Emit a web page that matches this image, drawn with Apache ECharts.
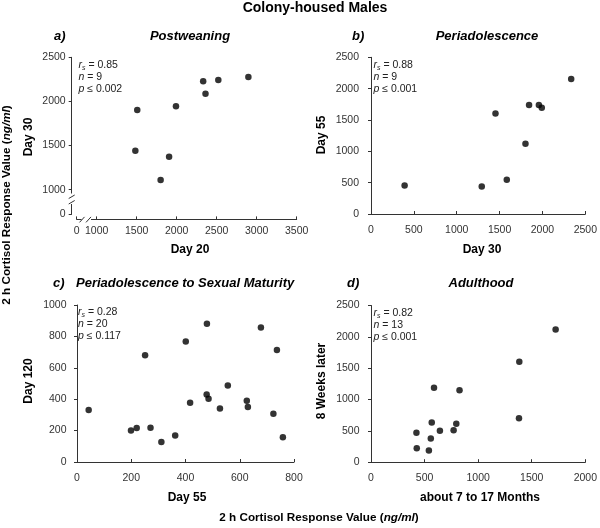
<!DOCTYPE html>
<html>
<head>
<meta charset="utf-8">
<script src="https://cdn.jsdelivr.net/npm/echarts@6/dist/echarts.min.js"></script>
<style>
html,body{margin:0;padding:0;background:#fff;}
#main{width:600px;height:528px;}
</style>
</head>
<body>
<div id="main"></div>
<script>
// ---- Data ----
var aX = [1507, 1483, 1799, 1905, 1991, 2331, 2360, 2520, 2896];
var aY = [1903, 1441, 1109, 1373, 1944, 2228, 2088, 2243, 2277];

var bX = [392, 1292, 1452, 1584, 1802, 1844, 1958, 1992, 2335];
var bY = [456, 440, 1605, 547, 1119, 1739, 1739, 1696, 2152];

var cX = [43, 199, 220, 251, 271, 311, 362, 401, 417, 479, 478, 485, 527, 556, 626, 630, 678, 724, 737, 759];
var cY = [331, 201, 216, 680, 218, 127, 169, 767, 377, 881, 430, 403, 341, 487, 390, 350, 856, 307, 714, 157];

var dX = [424, 427, 540, 558, 567, 588, 643, 771, 796, 826, 1381, 1384, 1723];
var dY = [468, 223, 186, 378, 633, 1186, 500, 511, 612, 1149, 702, 1601, 2117];

// Panel a has broken axes: the lowest tick stands for 0
var aXBreakBase = 750;
var aYBreakBase = 720;
var aXTicks = [750, 1000, 1500, 2000, 2500, 3000, 3500];
var aYTicks = [720, 1000, 1500, 2000, 2500];

var panelTitles = ['Postweaning', 'Periadolescence', 'Periadolescence to Sexual Maturity', 'Adulthood'];
var panelLetters = ['a)', 'b)', 'c)', 'd)'];
var xNames = ['Day 20', 'Day 30', 'Day 55', 'about 7 to 17 Months'];
var yNames = ['Day 30', 'Day 55', 'Day 120', '8 Weeks later'];
var statsR = ['0.85', '0.88', '0.28', '0.82'];
var statsN = ['9', '9', '20', '13'];
var statsP = ['0.002', '0.001', '0.117', '0.001'];

function pairs(xs, ys) { return xs.map(function (v, i) { return [v, ys[i]]; }); }

var FONT = '"Liberation Sans", Arial, Helvetica, sans-serif';
var AX = '#333';

var grids = [
  { left: 76.7, top: 57.3, width: 220, height: 157.1 },
  { left: 371, top: 57.3, width: 217.5, height: 156.7 },
  { left: 77, top: 305, width: 217, height: 157 },
  { left: 371, top: 305.5, width: 218.5, height: 156.7 }
];
var yOff = [5, 6, 4.5, 5.5];
var xOff = [5, 5, 4.5, 4.5];

function plain(v) { return String(v); }

function xAxisBase(i) {
  return {
    type: 'value', gridIndex: i, offset: xOff[i],
    splitLine: { show: false },
    axisLine: { show: true, lineStyle: { color: AX, width: 1 } },
    axisTick: { show: true, inside: true, length: 3, lineStyle: { color: AX } },
    axisLabel: { color: '#333', fontSize: 10.5, fontFamily: FONT, margin: 6, formatter: plain }
  };
}
function yAxisBase(i) {
  return {
    type: 'value', gridIndex: i, offset: yOff[i],
    splitLine: { show: false },
    axisLine: { show: true, lineStyle: { color: AX, width: 1 } },
    axisTick: { show: true, inside: false, length: 3, lineStyle: { color: AX } },
    axisLabel: { color: '#333', fontSize: 10.5, fontFamily: FONT, margin: 6, formatter: plain }
  };
}

var xAxes = [0, 1, 2, 3].map(xAxisBase);
var yAxes = [0, 1, 2, 3].map(yAxisBase);

// panel a
Object.assign(xAxes[0], { min: aXBreakBase, max: 3500 });
xAxes[0].axisTick.customValues = aXTicks;
xAxes[0].axisLabel.customValues = aXTicks;
xAxes[0].axisLabel.formatter = function (v) { return v === aXBreakBase ? '0' : String(v); };
Object.assign(yAxes[0], { min: aYBreakBase, max: 2500 });
yAxes[0].axisTick.customValues = aYTicks;
yAxes[0].axisLabel.customValues = aYTicks;
yAxes[0].axisLabel.formatter = function (v) { return v === aYBreakBase ? '0' : String(v); };
// panel b
Object.assign(xAxes[1], { min: 0, max: 2500, interval: 500 });
Object.assign(yAxes[1], { min: 0, max: 2500, interval: 500 });
// panel c
Object.assign(xAxes[2], { min: 0, max: 800, interval: 200 });
Object.assign(yAxes[2], { min: 0, max: 1000, interval: 200 });
// panel d
Object.assign(xAxes[3], { min: 0, max: 2000, interval: 500 });
Object.assign(yAxes[3], { min: 0, max: 2500, interval: 500 });

var datasets = [pairs(aX, aY), pairs(bX, bY), pairs(cX, cY), pairs(dX, dY)];
var series = datasets.map(function (d, i) {
  return {
    type: 'scatter', xAxisIndex: i, yAxisIndex: i, data: d,
    symbol: 'circle', symbolSize: 6.5,
    itemStyle: { color: '#000' }, silent: true
  };
});

// ---- Text graphics ----
var g = [];
function txt(x, y, text, opt) {
  opt = opt || {};
  var el = {
    type: 'text', x: x, y: y, z: 100, rotation: opt.rotation || 0,
    style: {
      text: text, fill: opt.color || '#000', align: opt.align || 'center', verticalAlign: opt.va || 'middle',
      fontFamily: FONT, fontSize: opt.size || 13, fontWeight: opt.weight || 'bold', fontStyle: opt.style || 'normal'
    }
  };
  if (opt.rich) el.style.rich = opt.rich;
  g.push(el);
}

txt(315, 8, 'Colony-housed Males', { size: 14 });

var letterPos = [[54, 36], [352, 36], [53, 283], [347, 283]];
var titlePos = [[190, 36, 'center'], [487, 36, 'center'], [76, 283, 'left'], [481, 283, 'center']];
for (var i = 0; i < 4; i++) {
  txt(letterPos[i][0], letterPos[i][1], panelLetters[i], { align: 'left', style: 'italic' });
  txt(titlePos[i][0], titlePos[i][1], panelTitles[i], { align: titlePos[i][2], style: 'italic' });
}

var xNamePos = [[190, 250], [482, 250], [187, 498], [480, 498]];
var yNamePos = [[29, 137], [322, 135], [29, 381], [322, 381]];
for (var i = 0; i < 4; i++) {
  txt(xNamePos[i][0], xNamePos[i][1], xNames[i], { size: 12 });
  txt(yNamePos[i][0], yNamePos[i][1], yNames[i], { size: 12, rotation: Math.PI / 2 });
}

var richLabel = {
  b: { fontFamily: FONT, fontSize: 11.7, fontWeight: 'bold', fill: '#000' },
  bi: { fontFamily: FONT, fontSize: 11.7, fontWeight: 'bold', fontStyle: 'italic', fill: '#000' }
};
txt(319, 518, '{b|2 h Cortisol Response Value (}{bi|ng/ml}{b|)}', { rich: richLabel });
txt(7, 205, '{b|2 h Cortisol Response Value (}{bi|ng/ml}{b|)}', { rich: richLabel, rotation: Math.PI / 2 });

var statRich = {
  i: { fontFamily: FONT, fontSize: 10.5, fontStyle: 'italic', fill: '#222', lineHeight: 11.7 },
  n: { fontFamily: FONT, fontSize: 10.5, fill: '#222', lineHeight: 11.7 },
  s: { fontFamily: FONT, fontSize: 7, fontStyle: 'italic', fill: '#222', lineHeight: 6, verticalAlign: 'bottom' }
};
var statPos = [[78.5, 59.5], [373.5, 59.5], [78, 306.5], [373.5, 307.5]];
for (var i = 0; i < 4; i++) {
  var t = '{i|r}{s|s}{n| = ' + statsR[i] + '}\n{i|n}{n| = ' + statsN[i] + '}\n{i|p}{n| \u2264 ' + statsP[i] + '}';
  g.push({
    type: 'text', x: statPos[i][0], y: statPos[i][1], z: 100,
    style: { text: t, rich: statRich, align: 'left', verticalAlign: 'top', fontFamily: FONT, fontSize: 10.5, fill: '#222' }
  });
}

// ---- Axis break marks for panel a ----
var ga = grids[0];
var yAxX = ga.left - yOff[0];
var xAxY = ga.top + ga.height + xOff[0];
g.push({ type: 'rect', z: 100, shape: { x: yAxX - 2, y: 193.5, width: 4, height: 10.5 }, style: { fill: '#fff' } });
g.push({ type: 'line', z: 101, shape: { x1: yAxX - 3, y1: 198.5, x2: yAxX + 3, y2: 195 }, style: { stroke: AX, lineWidth: 1 } });
g.push({ type: 'line', z: 101, shape: { x1: yAxX - 3, y1: 204, x2: yAxX + 3, y2: 200.5 }, style: { stroke: AX, lineWidth: 1 } });
g.push({ type: 'rect', z: 100, shape: { x: 81.5, y: xAxY - 2, width: 9.5, height: 4 }, style: { fill: '#fff' } });
g.push({ type: 'line', z: 101, shape: { x1: 79.5, y1: xAxY + 3, x2: 84.5, y2: xAxY - 2.5 }, style: { stroke: AX, lineWidth: 1 } });
g.push({ type: 'line', z: 101, shape: { x1: 86, y1: xAxY + 3, x2: 91, y2: xAxY - 2.5 }, style: { stroke: AX, lineWidth: 1 } });

var chart = echarts.init(document.getElementById('main'), null, { renderer: 'canvas' });
chart.setOption({
  animation: false,
  backgroundColor: '#fff',
  grid: grids,
  xAxis: xAxes,
  yAxis: yAxes,
  series: series,
  graphic: { elements: g }
});
</script>
</body>
</html>
